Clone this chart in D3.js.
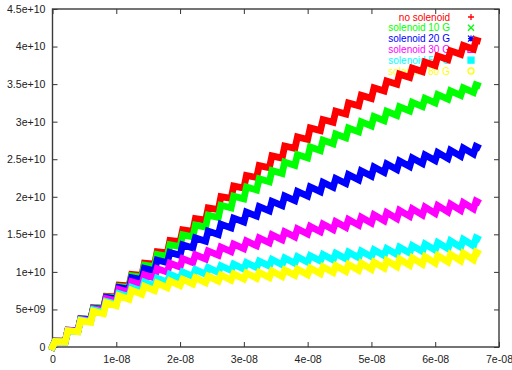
<!DOCTYPE html>
<html><head><meta charset="utf-8">
<script src="https://cdn.jsdelivr.net/npm/d3@7"></script>
<style>body{margin:0;background:#fff;overflow:hidden}</style>
</head><body>
<svg id="c" width="512" height="370"></svg>
<script>
// ---- data ----
const seriesNames = ["no solenoid","solenoid 10 G","solenoid 20 G","solenoid 30 G","solenoid 50 G","solenoid 80 G"];
const seriesColors = ["#ff0000","#00ff00","#0000ff","#ff00ff","#00ffff","#ffff00"];
const seriesMarkers = ["plus","times","star","square","filledSquare","circle"];
// bunch arrival times (s)
const bunchTimes = [0,2e-9,4e-9,6e-9,8e-9,1e-8,1.2e-8,1.4e-8,1.6e-8,1.8e-8,2e-8,2.2e-8,2.4e-8,2.6e-8,2.8e-8,3e-8,3.2e-8,3.4e-8,3.6e-8,3.8e-8,4e-8,4.2e-8,4.4e-8,4.6e-8,4.8e-8,5e-8,5.2e-8,5.4e-8,5.6e-8,5.8e-8,6e-8,6.2e-8,6.4e-8,6.6e-8];
// mean level during each bunch interval (units of 1e9)
const levelNoSol = [0.8,2.2,3.7,5.2,6.7,8.2,9.6,11.1,12.6,14.1,15.5,17.0,18.4,19.9,21.3,22.7,24.0,25.3,26.6,27.8,29.0,30.1,31.2,32.3,33.3,34.3,35.2,36.1,36.9,37.7,38.5,39.2,39.9,40.6];
const level10G  = [0.75,2.2,3.7,5.2,6.6,8.0,9.4,10.8,12.2,13.5,14.8,16.1,17.4,18.7,19.9,21.1,22.2,23.3,24.4,25.4,26.4,27.3,28.1,28.9,29.7,30.4,31.1,31.7,32.3,32.8,33.3,33.8,34.2,34.6];
const level20G  = [0.75,2.2,3.7,5.1,6.5,7.8,9.1,10.3,11.4,12.4,13.4,14.3,15.2,16.1,16.9,17.7,18.4,19.1,19.8,20.4,21.0,21.6,22.1,22.6,23.1,23.6,24.0,24.4,24.8,25.2,25.5,25.8,26.1,26.3];
const level30G  = [0.7,2.2,3.6,5.0,6.3,7.5,8.5,9.4,10.2,10.9,11.5,12.0,12.5,13.0,13.4,13.8,14.2,14.6,15.0,15.4,15.7,16.0,16.3,16.6,16.9,17.2,17.5,17.8,18.0,18.2,18.4,18.6,18.8,19.0];
const level50G  = [0.7,2.1,3.5,4.8,5.9,6.9,7.7,8.4,8.9,9.4,9.7,10.0,10.25,10.5,10.7,10.9,11.1,11.3,11.5,11.65,11.8,11.95,12.1,12.25,12.4,12.55,12.7,12.9,13.1,13.3,13.5,13.7,13.9,14.1];
const level80G  = [0.7,2.1,3.4,4.6,5.7,6.6,7.3,7.8,8.2,8.5,8.7,8.9,9.1,9.25,9.4,9.5,9.6,9.75,9.9,10.0,10.15,10.3,10.45,10.6,10.75,10.9,11.1,11.3,11.45,11.6,11.75,11.9,12.05,12.2];
// decay between bunches (units of 1e9)
const dropNoSol = [0.02,0.03,0.05,0.06,0.08,0.10,0.12,0.14,0.15,0.17,0.18,0.21,0.23,0.24,0.26,0.27,0.29,0.30,0.32,0.33,0.35,0.36,0.38,0.39,0.40,0.41,0.42,0.44,0.45,0.45,0.47,0.47,0.48,0.48];
const drop10G  = [0.02,0.05,0.06,0.09,0.12,0.15,0.17,0.20,0.23,0.24,0.27,0.29,0.32,0.33,0.36,0.38,0.39,0.41,0.44,0.45,0.47,0.48,0.50,0.51,0.53,0.54,0.56,0.56,0.57,0.59,0.60,0.60,0.62,0.62];
const drop20G  = [0.03,0.06,0.11,0.15,0.20,0.24,0.27,0.32,0.35,0.38,0.41,0.44,0.45,0.48,0.51,0.53,0.56,0.57,0.60,0.62,0.63,0.65,0.66,0.68,0.69,0.71,0.72,0.74,0.75,0.75,0.77,0.78,0.78,0.80];
const drop30G  = [0.03,0.10,0.17,0.23,0.29,0.35,0.39,0.42,0.47,0.50,0.53,0.54,0.57,0.59,0.60,0.62,0.65,0.66,0.68,0.69,0.71,0.72,0.74,0.75,0.77,0.78,0.80,0.80,0.81,0.83,0.83,0.84,0.84,0.86];
const drop50G  = [0.05,0.12,0.21,0.29,0.36,0.42,0.47,0.51,0.54,0.57,0.59,0.60,0.62,0.63,0.65,0.66,0.66,0.68,0.69,0.71,0.71,0.72,0.72,0.74,0.75,0.75,0.77,0.78,0.78,0.80,0.81,0.83,0.84,0.84];
const drop80G  = [0.05,0.15,0.24,0.33,0.41,0.48,0.53,0.56,0.59,0.62,0.63,0.65,0.66,0.66,0.68,0.69,0.69,0.71,0.72,0.72,0.74,0.74,0.75,0.77,0.78,0.78,0.80,0.81,0.83,0.84,0.84,0.86,0.87,0.89];
const levels = [levelNoSol,level10G,level20G,level30G,level50G,level80G];
const drops  = [dropNoSol,drop10G,drop20G,drop30G,drop50G,drop80G];

const xTicks = [0,1e-8,2e-8,3e-8,4e-8,5e-8,6e-8,7e-8];
const xTickLabels = ["0","1e-08","2e-08","3e-08","4e-08","5e-08","6e-08","7e-08"];
const yTicks = [0,5e9,1e10,1.5e10,2e10,2.5e10,3e10,3.5e10,4e10,4.5e10];
const yTickLabels = ["0","5e+09","1e+10","1.5e+10","2e+10","2.5e+10","3e+10","3.5e+10","4e+10","4.5e+10"];

// ---- drawing ----
const svg = d3.select("#c");
const L = 52.5, R = 499, T = 9, B = 347;
const x = d3.scaleLinear().domain([0,7e-8]).range([L,R]);
const y = d3.scaleLinear().domain([0,4.5e10]).range([B,T]);
const font = "'Liberation Sans', Arial, sans-serif";
const tickCol = "#333";

function styleAxis(g){
  g.select(".domain").remove();
  g.selectAll(".tick line").attr("stroke",tickCol).attr("stroke-width",1);
  g.selectAll(".tick text").attr("font-family",font).attr("font-size",10.6).attr("fill","#222");
}
svg.append("g").attr("transform",`translate(0,${B})`)
  .call(d3.axisBottom(x).tickValues(xTicks).tickFormat((d,i)=>xTickLabels[i]).tickSizeInner(-5).tickSizeOuter(0).tickPadding(8))
  .call(styleAxis);
svg.append("g").attr("transform",`translate(0,${T})`)
  .call(d3.axisTop(x).tickValues(xTicks).tickFormat("").tickSizeInner(-5).tickSizeOuter(0))
  .call(styleAxis);
svg.append("g").attr("transform",`translate(${L},0)`)
  .call(d3.axisLeft(y).tickValues(yTicks).tickFormat((d,i)=>yTickLabels[i]).tickSizeInner(-5).tickSizeOuter(0).tickPadding(7))
  .call(styleAxis);
svg.append("g").attr("transform",`translate(${R},0)`)
  .call(d3.axisRight(y).tickValues(yTicks).tickFormat("").tickSizeInner(-5).tickSizeOuter(0))
  .call(styleAxis);
svg.append("rect").attr("x",L).attr("y",T).attr("width",R-L).attr("height",B-T)
  .attr("fill","none").attr("stroke","#3a3a3a").attr("stroke-width",1.4);

// legend (drawn below the data, as in the reference)
const lg = svg.append("g");
const markerPath = {
  plus:  s=>`M${-s},0H${s}M0,${-s}V${s}`,
  times: s=>`M${-s},${-s}L${s},${s}M${-s},${s}L${s},${-s}`,
  star:  s=>`M${-s},0H${s}M0,${-s}V${s}M${-s},${-s}L${s},${s}M${-s},${s}L${s},${-s}`,
  square:s=>`M${-s},${-s}H${s}V${s}H${-s}Z`,
  filledSquare:s=>`M${-s},${-s}H${s}V${s}H${-s}Z`,
  circle:s=>`M${-s},0A${s},${s} 0 1,0 ${s},0A${s},${s} 0 1,0 ${-s},0`
};
seriesNames.forEach((n,i)=>{
  const yy = 17 + i*10.8;
  lg.append("text").attr("x",450).attr("y",yy).attr("dy","0.35em").attr("text-anchor","end")
    .attr("font-family",font).attr("font-size",10).attr("fill",seriesColors[i]).text(n);
  const m = seriesMarkers[i];
  lg.append("path").attr("transform",`translate(471,${yy})`).attr("d",markerPath[m](3))
    .attr("fill", m==="filledSquare" ? seriesColors[i] : "none")
    .attr("stroke",seriesColors[i]).attr("stroke-width",1.3);
});

// series: sawtooth built from bunch levels and decays
const riseTime = 0.4e-9;
const line = d3.line().x(d=>x(d[0])).y(d=>y(d[1]));
levels.forEach((lv,i)=>{
  const pts = [[0,0]];
  bunchTimes.forEach((t,k)=>{
    const peak = (lv[k] + drops[i][k]/2)*1e9;
    const trough = (lv[k] - drops[i][k]/2)*1e9;
    pts.push([t+riseTime, peak]);
    if (k < bunchTimes.length-1) pts.push([bunchTimes[k+1], trough]);
    else pts.push([t+riseTime+0.2e-9, peak - drops[i][k]*0.1e9]);
  });
  svg.append("path").datum(pts).attr("d",line)
    .attr("fill","none").attr("stroke",seriesColors[i]).attr("stroke-width",6.8)
    .attr("stroke-linejoin","miter").attr("stroke-miterlimit",3).attr("stroke-linecap","square");
});
</script>
</body></html>
